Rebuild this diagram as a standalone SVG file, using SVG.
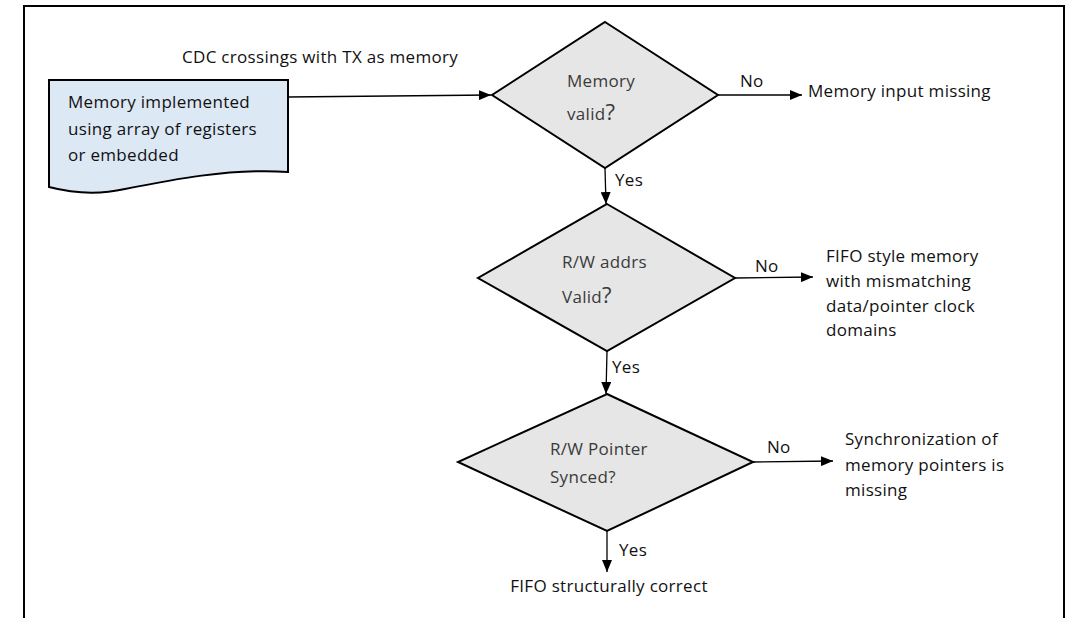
<svg xmlns="http://www.w3.org/2000/svg" width="1074" height="618" viewBox="0 0 1074 618">
<style>
text{font-family:"Open Sans","Liberation Sans",sans-serif;font-size:17px;letter-spacing:0.3px;fill:#111}
.dt{fill:#3a3a3a}
.q{font-size:22px}
.dia{fill:#e6e6e6;stroke:#000;stroke-width:2}
.doc{fill:#dde8f5;stroke:#000;stroke-width:2}
.edge{stroke:#000;stroke-width:1.3;fill:none;marker-end:url(#ah)}
</style>
<defs>
<marker id="ah" viewBox="0 0 12 10" refX="12" refY="5" markerWidth="12" markerHeight="10" markerUnits="userSpaceOnUse" orient="auto">
<path d="M0,0 L12,5 L0,10 Z" fill="#000"/>
</marker>
</defs>
<rect width="1074" height="618" fill="#fff"/>
<path d="M24,618 V6 H1064 V618" fill="none" stroke="#000" stroke-width="2"/>
<g id="source">
<path class="doc" d="M49,80 H288 V172 C230,168 170,180 125,189 C98,195 72,193 49,187 Z"/>
<text x="68" y="108">Memory implemented</text>
<text x="68" y="135">using array of registers</text>
<text x="68" y="161">or embedded</text>
</g>
<g id="d1">
<polygon class="dia" points="605,22 718,95 605,168 492,95"/>
<text class="dt" x="567" y="87">Memory</text>
<text class="dt" x="567" y="120">valid<tspan class="q">?</tspan></text>
</g>
<g id="d2">
<polygon class="dia" points="607,204 735,278 607,351 478,278"/>
<text class="dt" x="562" y="268">R/W addrs</text>
<text class="dt" x="562" y="303">Valid<tspan class="q">?</tspan></text>
</g>
<g id="d3">
<polygon class="dia" points="607,394 753,462 607,531 458,462"/>
<text class="dt" x="550" y="455">R/W Pointer</text>
<text class="dt" x="550" y="483">Synced?</text>
</g>
<g id="out1"><text x="808" y="97">Memory input missing</text></g>
<g id="out2">
<text x="826" y="262">FIFO style memory</text>
<text x="826" y="287">with mismatching</text>
<text x="826" y="312">data/pointer clock</text>
<text x="826" y="336">domains</text>
</g>
<g id="out3">
<text x="845" y="445">Synchronization of</text>
<text x="845" y="471">memory pointers is</text>
<text x="845" y="496">missing</text>
</g>
<g id="out4"><text x="609" y="592" text-anchor="middle">FIFO structurally correct</text></g>
<g id="connectors">
<line class="edge" x1="288" y1="97" x2="491" y2="95"/>
<line class="edge" x1="718" y1="95" x2="802" y2="95"/>
<line class="edge" x1="605" y1="168" x2="606" y2="204"/>
<line class="edge" x1="735" y1="278" x2="813" y2="277"/>
<line class="edge" x1="607" y1="351" x2="606" y2="394"/>
<line class="edge" x1="753" y1="462" x2="833" y2="461"/>
<line class="edge" x1="607" y1="531" x2="607" y2="572"/>
<text x="182" y="63">CDC crossings with TX as memory</text>
<text x="740" y="87">No</text>
<text x="615" y="186">Yes</text>
<text x="755" y="272">No</text>
<text x="612" y="373">Yes</text>
<text x="767" y="453">No</text>
<text x="619" y="556">Yes</text>
</g>
</svg>
